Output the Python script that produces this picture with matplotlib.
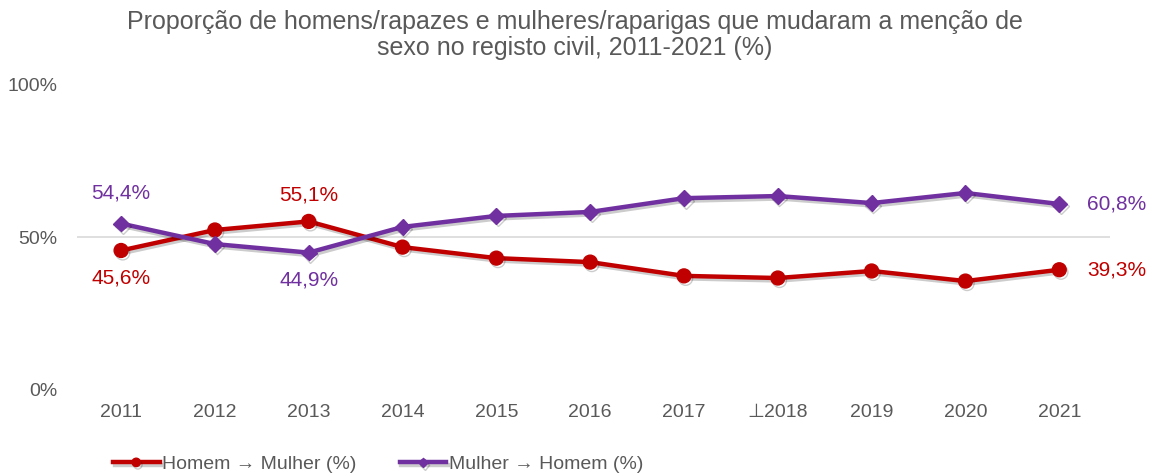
import matplotlib.pyplot as plt
import matplotlib.patheffects as pe

plt.rcParams['font.family'] = ['Liberation Sans', 'DejaVu Sans']

years = ["2011", "2012", "2013", "2014", "2015", "2016", "2017", "\u22a52018", "2019", "2020", "2021"]
homem_mulher = [45.6, 52.3, 55.1, 46.7, 43.1, 41.8, 37.3, 36.6, 38.9, 35.6, 39.3]
mulher_homem = [54.4, 47.7, 44.9, 53.3, 56.9, 58.2, 62.7, 63.4, 61.1, 64.4, 60.8]

red = '#C00000'
purple = '#7030A0'
grey = '#595959'

fig = plt.figure(figsize=(11.49, 4.75), dpi=100)
ax = fig.add_axes([0.067, 0.179, 0.899, 0.644])

x = list(range(len(years)))
shadow = [pe.SimpleLineShadow(offset=(1.2, -1.8), alpha=0.2, shadow_color='black'), pe.Normal()]

ax.axhline(50, color='#D9D9D9', lw=1.2, zorder=1)
ax.plot(x, homem_mulher, '-o', color=red, lw=3.2, markersize=10,
        label='Homem \u2192 Mulher (%)', path_effects=shadow, zorder=3)
ax.plot(x, mulher_homem, '-D', color=purple, lw=3.2, markersize=8,
        label='Mulher \u2192 Homem (%)', path_effects=shadow, zorder=3)

def fmt(v):
    return ('%.1f%%' % v).replace('.', ',')

# data labels
lbl = dict(fontsize=15)
ax.annotate(fmt(mulher_homem[0]), (0, mulher_homem[0]), xytext=(0, 15), textcoords='offset points',
            ha='center', va='bottom', color=purple, **lbl)
ax.annotate(fmt(homem_mulher[0]), (0, homem_mulher[0]), xytext=(0, -13), textcoords='offset points',
            ha='center', va='top', color=red, **lbl)
ax.annotate(fmt(homem_mulher[2]), (2, homem_mulher[2]), xytext=(0, 12), textcoords='offset points',
            ha='center', va='bottom', color=red, **lbl)
ax.annotate(fmt(mulher_homem[2]), (2, mulher_homem[2]), xytext=(0, -13), textcoords='offset points',
            ha='center', va='top', color=purple, **lbl)
ax.annotate(fmt(mulher_homem[10]), (10, mulher_homem[10]), xytext=(20, 0), textcoords='offset points',
            ha='left', va='center', color=purple, **lbl)
ax.annotate(fmt(homem_mulher[10]), (10, homem_mulher[10]), xytext=(20, 0), textcoords='offset points',
            ha='left', va='center', color=red, **lbl)

ax.set_xlim(-0.47, 10.54)
ax.set_ylim(0, 100)
ax.set_xticks(x)
ax.set_xticklabels(years)
ax.set_yticks([0, 50, 100])
ax.set_yticklabels(['0%', '50%', '100%'])
ax.tick_params(axis='both', length=0, labelsize=14, labelcolor=grey)
ax.tick_params(axis='x', pad=10)
ax.tick_params(axis='y', pad=14)
for s in ax.spines.values():
    s.set_visible(False)

fig.suptitle('Propor\u00e7\u00e3o de homens/rapazes e mulheres/raparigas que mudaram a men\u00e7\u00e3o de\n'
             'sexo no registo civil, 2011-2021 (%)', color=grey, fontsize=18, y=0.98, linespacing=1.15)

fig.legend(loc='lower left', bbox_to_anchor=(0.083, -0.033), ncol=2, frameon=False,
           fontsize=14, labelcolor=grey, handlelength=2.4, handletextpad=0.15,
           columnspacing=2.2, markerscale=0.6)

fig.savefig('out.png', dpi=100)
